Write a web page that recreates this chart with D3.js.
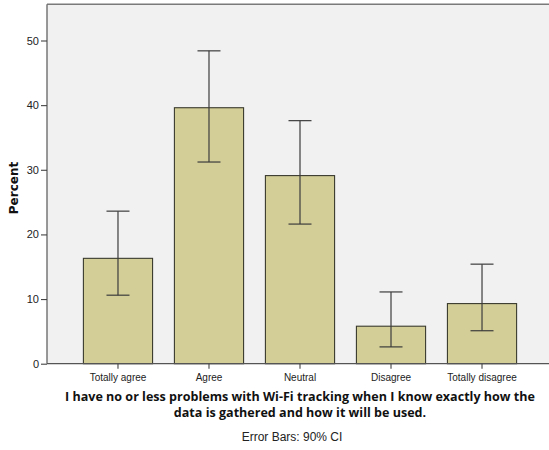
<!DOCTYPE html>
<html>
<head>
<meta charset="utf-8">
<script src="https://cdn.jsdelivr.net/npm/d3@7"></script>
<style>
  html, body { margin: 0; padding: 0; background: #ffffff; }
  svg { display: block; }
</style>
</head>
<body>
<script>
// Survey responses: share of respondents per answer, with 90% confidence limits
const categories = ["Totally agree", "Agree", "Neutral", "Disagree", "Totally disagree"];
const percent = [16.3, 39.6, 29.1, 5.8, 9.3];
const ciLow = [10.6, 31.2, 21.6, 2.6, 5.1];
const ciHigh = [23.6, 48.4, 37.6, 11.1, 15.4];
const yTicks = [0, 10, 20, 30, 40, 50];
const yTitle = "Percent";
const xTitleLines = [
  "I have no or less problems with Wi-Fi tracking when I know exactly how the",
  "data is gathered and how it will be used."
];
const footnote = "Error Bars: 90% CI";

const W = 549, H = 450;
const plot = { left: 47, right: 553, top: 4.3, bottom: 363.7 };

const svg = d3.select("body").append("svg")
  .attr("width", W).attr("height", H);

const x = d3.scaleBand()
  .domain(categories)
  .range([plot.left, plot.right])
  .paddingInner(0.24)
  .paddingOuter(0.4);

const y = d3.scaleLinear()
  .domain([0, 55.6])
  .range([plot.bottom, plot.top]);

// plot background
svg.append("rect")
  .attr("x", plot.left).attr("y", plot.top)
  .attr("width", plot.right - plot.left)
  .attr("height", plot.bottom - plot.top)
  .attr("fill", "#f1f1f1");

// frame: top edge
svg.append("line")
  .attr("x1", plot.left).attr("x2", W)
  .attr("y1", plot.top).attr("y2", plot.top)
  .attr("stroke", "#7a7a7a").attr("stroke-width", 1.6);

const rows = categories.map((c, i) => ({ c, v: percent[i], lo: ciLow[i], hi: ciHigh[i] }));

// bars
svg.append("g").selectAll("rect")
  .data(rows).join("rect")
  .attr("x", d => x(d.c))
  .attr("y", d => y(d.v))
  .attr("width", x.bandwidth())
  .attr("height", d => y(0) - y(d.v))
  .attr("fill", "#d3ce97")
  .attr("stroke", "#3a3a2e")
  .attr("stroke-width", 1.1);

// error bars
const capHalf = 11.5;
const eb = svg.append("g").attr("stroke", "#3c3c3c").attr("stroke-width", 1.2);
rows.forEach(d => {
  const cx = x(d.c) + x.bandwidth() / 2;
  eb.append("line").attr("x1", cx).attr("x2", cx).attr("y1", y(d.hi)).attr("y2", y(d.lo));
  eb.append("line").attr("x1", cx - capHalf).attr("x2", cx + capHalf).attr("y1", y(d.hi)).attr("y2", y(d.hi));
  eb.append("line").attr("x1", cx - capHalf).attr("x2", cx + capHalf).attr("y1", y(d.lo)).attr("y2", y(d.lo));
});

// y axis
const yAxis = svg.append("g")
  .attr("transform", `translate(${plot.left},0)`)
  .call(d3.axisLeft(y).tickValues(yTicks).tickSize(6).tickPadding(2).tickFormat(d3.format("d")));
yAxis.select(".domain").attr("stroke", "#6e6e6e").attr("stroke-width", 1.4)
  .attr("d", `M0,${plot.top}V${plot.bottom}`);
yAxis.selectAll(".tick line").attr("stroke", "#444").attr("stroke-width", 1.1);
yAxis.selectAll(".tick text")
  .attr("fill", "#222")
  .style("font-family", "'Liberation Sans', Arial, sans-serif")
  .style("font-size", "11px");

// x axis
const xAxis = svg.append("g")
  .attr("transform", `translate(0,${plot.bottom})`)
  .call(d3.axisBottom(x).tickSize(5).tickPadding(5));
xAxis.select(".domain").attr("stroke", "#555").attr("stroke-width", 1.3)
  .attr("d", `M${plot.left},0H${W}`);
xAxis.selectAll(".tick line").attr("stroke", "#444").attr("stroke-width", 1.1);
xAxis.selectAll(".tick text")
  .attr("fill", "#222")
  .style("font-family", "'Liberation Sans', Arial, sans-serif")
  .style("font-size", "10px");

// y title
svg.append("text")
  .attr("transform", `translate(18,${(plot.top + plot.bottom) / 2 + 4}) rotate(-90)`)
  .attr("text-anchor", "middle")
  .style("font-family", "'DejaVu Sans', Verdana, sans-serif")
  .style("font-weight", "bold")
  .style("font-size", "12px")
  .attr("fill", "#111")
  .text(yTitle);

// x title, two lines
const titleCx = 300;
const t = svg.append("text")
  .attr("text-anchor", "middle")
  .style("font-family", "'Open Sans', sans-serif")
  .style("font-weight", "bold")
  .style("font-size", "12px")
  .attr("fill", "#111");
xTitleLines.forEach((line, i) => {
  t.append("tspan").attr("x", titleCx).attr("y", 400.5 + i * 16.5).text(line);
});
// fit the long line to its intended width
const first = t.select("tspan").node();
const len = first.getComputedTextLength();
const fs = 12 * 470 / len;
t.style("font-size", fs.toFixed(2) + "px");

// footnote
svg.append("text")
  .attr("x", 292).attr("y", 441)
  .attr("text-anchor", "middle")
  .style("font-family", "'Liberation Sans', Arial, sans-serif")
  .style("font-size", "12px")
  .attr("fill", "#222")
  .text(footnote);
</script>
</body>
</html>
